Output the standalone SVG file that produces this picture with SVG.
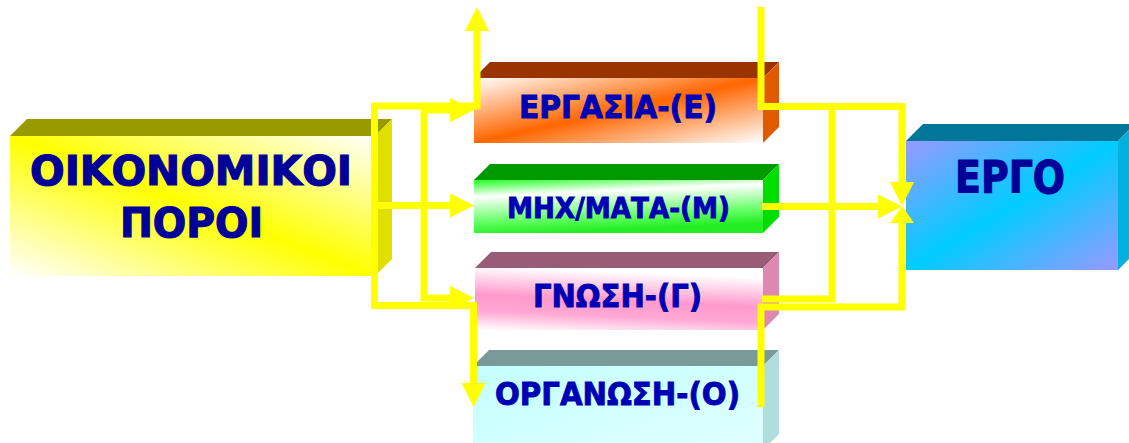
<svg xmlns="http://www.w3.org/2000/svg" width="1129" height="443" viewBox="0 0 1129 443">
<defs>
<style>
.lbl{font-family:"DejaVu Sans","Liberation Sans",sans-serif;font-weight:bold;fill:#0000b4;stroke:#0000b4;stroke-width:0.9}
.big{font-family:"DejaVu Sans","Liberation Sans",sans-serif;font-weight:bold;fill:#000099;stroke:#000099;stroke-width:1.2}
.con{fill:none;stroke:#ffff00;stroke-width:7;stroke-linejoin:miter;stroke-linecap:butt}
</style>
<linearGradient id="gY" x1="1" y1="0" x2="0" y2="1">
<stop offset="0" stop-color="#ffffff"/>
<stop offset="0.5" stop-color="#ffff00"/>
<stop offset="1" stop-color="#ffffff"/>
</linearGradient>
<linearGradient id="gO" x1="0" y1="0" x2="1" y2="1">
<stop offset="0" stop-color="#ffffff"/>
<stop offset="0.5" stop-color="#ff6600"/>
<stop offset="1" stop-color="#ffffff"/>
</linearGradient>
<linearGradient id="gG" x1="0" y1="0" x2="0.25" y2="1">
<stop offset="0" stop-color="#22ff22"/>
<stop offset="0.3" stop-color="#ffffff"/>
<stop offset="0.75" stop-color="#66ff66"/>
<stop offset="1" stop-color="#22ee22"/>
</linearGradient>
<linearGradient id="gP" x1="0.2" y1="0" x2="0" y2="1">
<stop offset="0" stop-color="#ffffff"/>
<stop offset="0.45" stop-color="#ff99cc"/>
<stop offset="0.7" stop-color="#ffa8d4"/>
<stop offset="1" stop-color="#ffffff"/>
</linearGradient>
<linearGradient id="gC" x1="0" y1="0" x2="1" y2="1">
<stop offset="0" stop-color="#c4ffff"/>
<stop offset="1" stop-color="#e0ffff"/>
</linearGradient>
<linearGradient id="gB" x1="0" y1="0" x2="1" y2="1">
<stop offset="0" stop-color="#9999ff"/>
<stop offset="0.5" stop-color="#00ccff"/>
<stop offset="1" stop-color="#9999ff"/>
</linearGradient>
<marker id="ah" viewBox="0 0 24 24" refX="0" refY="12" markerWidth="24" markerHeight="24" markerUnits="userSpaceOnUse" orient="auto-start-reverse">
<path d="M0,0 L24,12 L0,24 z" fill="#ffff00"/>
</marker>
<marker id="ah2" viewBox="0 0 17 24" refX="0" refY="12" markerWidth="17" markerHeight="24" markerUnits="userSpaceOnUse" orient="auto">
<path d="M0,0 L17,12 L0,24 z" fill="#ffff00"/>
</marker>
</defs>

<g id="node-oikonomikoi">
<polygon points="10,136 27,119 392,119 375,136" fill="#999900"/>
<polygon points="375,136 392,119 392,259 375,276" fill="#e0e000"/>
<rect x="10" y="136" width="365" height="140" fill="url(#gY)"/>
<text class="big" x="30" y="185" font-size="41" textLength="322" lengthAdjust="spacingAndGlyphs">ΟΙΚΟΝΟΜΙΚΟΙ</text>
<text class="big" x="120" y="237" font-size="41" textLength="143" lengthAdjust="spacingAndGlyphs">ΠΟΡΟΙ</text>
</g>

<g id="node-ergasia">
<polygon points="474,78 490,62 779,62 763,78" fill="#993300"/>
<polygon points="763,78 779,62 779,127 763,143" fill="#e05a00"/>
<rect x="474" y="78" width="289" height="65" fill="url(#gO)"/>
<text class="lbl" x="519" y="118" font-size="32" textLength="198" lengthAdjust="spacingAndGlyphs">ΕΡΓΑΣΙΑ-(Ε)</text>
</g>

<g id="node-mixanimata">
<polygon points="474,180 490,164 779,164 763,180" fill="#009900"/>
<polygon points="763,180 779,164 779,217 763,233" fill="#00dd00"/>
<rect x="474" y="180" width="289" height="53" fill="url(#gG)"/>
<text class="lbl" x="507" y="218" font-size="29" textLength="223" lengthAdjust="spacingAndGlyphs">ΜΗΧ/ΜΑΤΑ-(Μ)</text>
</g>

<g id="node-gnosi">
<polygon points="475,268 491,252 779,252 763,268" fill="#995c77"/>
<polygon points="763,268 779,252 779,314 763,330" fill="#dd88b0"/>
<rect x="475" y="268" width="288" height="62" fill="url(#gP)"/>
<text class="lbl" x="533" y="307" font-size="32" textLength="169" lengthAdjust="spacingAndGlyphs">ΓΝΩΣΗ-(Γ)</text>
</g>

<g id="node-organosi">
<polygon points="473,366 489,350 779,350 763,366" fill="#7a9999"/>
<polygon points="763,366 779,350 779,434 763,450" fill="#b0dddd"/>
<rect x="473" y="366" width="290" height="84" fill="url(#gC)"/>
<text class="lbl" x="495" y="405" font-size="32" textLength="245" lengthAdjust="spacingAndGlyphs">ΟΡΓΑΝΩΣΗ-(Ο)</text>
</g>

<g id="node-ergo">
<polygon points="906,141 923,124 1135,124 1118,141" fill="#007799"/>
<polygon points="1118,141 1135,124 1135,253 1118,270" fill="#00b0dd"/>
<rect x="906" y="141" width="212" height="129" fill="url(#gB)"/>
<text class="big" x="955" y="193" font-size="45" textLength="110" lengthAdjust="spacingAndGlyphs">ΕΡΓΟ</text>
</g>

<g id="connectors">
<path class="con" d="M477,31 V106 H374.5 V305.5 H473.5 V383" marker-start="url(#ah)" marker-end="url(#ah)"/>
<path class="con" d="M450,110 H424 V298 H450" marker-start="url(#ah)" marker-end="url(#ah)"/>
<path class="con" d="M372,205.5 H450" marker-end="url(#ah)"/>
<path class="con" d="M761,7 V106.5 H902 V182" marker-end="url(#ah)"/>
<path class="con" d="M761,407 V307 H902 V223" marker-end="url(#ah2)"/>
<path class="con" d="M762,299 H832 V106.5"/>
<path class="con" d="M762,206.5 H878" marker-end="url(#ah)"/>
</g>
</svg>
